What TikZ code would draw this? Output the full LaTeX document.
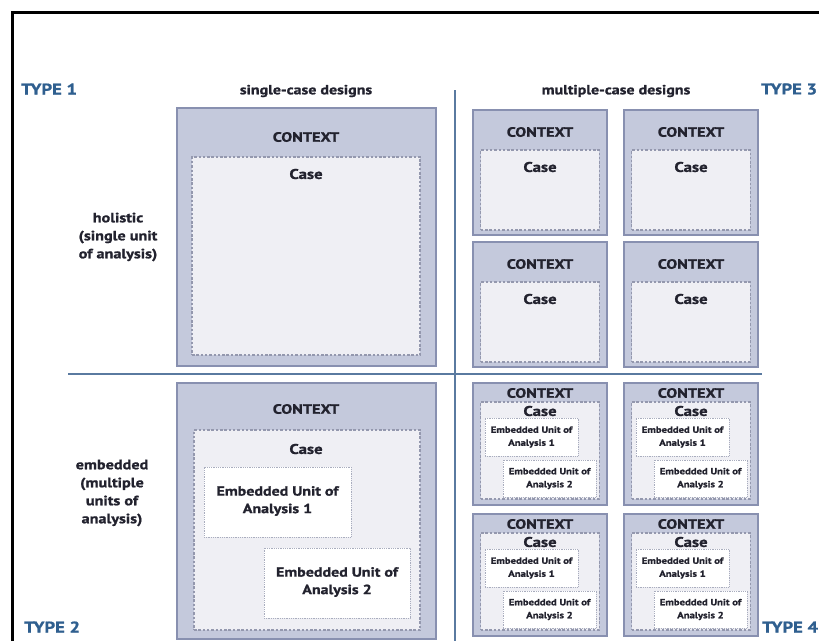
\documentclass[tikz,border=0pt]{standalone}
\usepackage{fontspec}
\setmainfont{PT Sans}[FakeStretch=1.2, BoldFeatures={FakeBold=1.2}]
\usetikzlibrary{positioning}
\definecolor{ctxfill}{HTML}{C4C9DC}
\definecolor{ctxline}{HTML}{8890B0}
\definecolor{casefill}{HTML}{EFEFF4}
\definecolor{caseline}{HTML}{9498AE}
\definecolor{typeblue}{HTML}{2F5F8F}
\definecolor{divline}{HTML}{5A7AA0}
\definecolor{ink}{HTML}{22222E}
\tikzset{
  ctxbox/.style={draw=ctxline, fill=ctxfill, line width=1.3pt, inner sep=0pt},
  casebox/.style={draw=caseline, fill=casefill, line width=1.2pt, dash pattern=on 2.5pt off 1.8pt, inner sep=0pt},
  unitbox/.style={draw=caseline!80, fill=white, line width=0.8pt, densely dotted, inner sep=0pt},
  lbl/.style={font=\bfseries, text=ink, inner sep=0pt, align=center},
  ctxlbl/.style={lbl, font=\bfseries\fontsize{13.5}{15}\selectfont},
  caselbl/.style={lbl, font=\bfseries\fontsize{14}{16}\selectfont},
  headlbl/.style={lbl, font=\bfseries\fontsize{13.3}{15}\selectfont},
  rowlbl/.style={lbl, font=\bfseries\fontsize{13.5}{18}\selectfont},
  bigunit/.style={lbl, font=\bfseries\fontsize{13.3}{17.5}\selectfont},
  smallunit/.style={lbl, font=\bfseries\fontsize{8.9}{13}\selectfont},
  typelbl/.style={font=\bfseries\fontsize{15.5}{17}\selectfont, text=typeblue, inner sep=0pt},
  divider/.style={draw=divline, line width=1.4pt},
}
\begin{document}
\begin{tikzpicture}[x=1pt,y=-1pt]
\useasboundingbox (0,0) rectangle (819,641);
% page frame (top and left edges)
\draw[line width=3pt] (12,641) -- (12,12) -- (819,12);

% quadrant dividers
\coordinate (vtop) at (455,90);
\coordinate (vbot) at (455,641);
\coordinate (hl) at (68,374);
\coordinate (hr) at (762,374);
\draw[divider] (vtop) -- (vbot);
\draw[divider] (hl) -- (hr);

% headings and type labels
\node[headlbl] (hsingle) at (306,91) {single-case designs};
\node[headlbl] (hmulti) at (616,91) {multiple-case designs};
\node[typelbl, anchor=west] (t1) at (21,89) {TYPE 1};
\node[typelbl, anchor=west] (t3) at (761,89) {TYPE 3};
\node[typelbl, anchor=west] (t2) at (24,627) {TYPE 2};
\node[typelbl, anchor=west] (t4) at (762,627) {TYPE 4};
\node[rowlbl] (rhol) at (118,237) {holistic\\(single unit\\of analysis)};
\node[rowlbl] (remb) at (112,493) {embedded\\(multiple\\units of\\analysis)};

% Type 1: single holistic case
\node[ctxbox, minimum width=259, minimum height=258] (c1) at (306.5,237) {};
\node[casebox, minimum width=228, minimum height=198] (k1) at (306,256) {};
\node[ctxlbl] (c1t) at (306,137) {CONTEXT};
\node[caselbl] (k1t) at (306,174) {Case};

% Type 2: single embedded case
\node[ctxbox, minimum width=259, minimum height=256] (c2) at (306.5,511) {};
\node[casebox, minimum width=226, minimum height=200] (k2) at (307,530) {};
\node[ctxlbl] (c2t) at (306,409) {CONTEXT};
\node[caselbl] (k2t) at (306,449) {Case};
\node[unitbox, minimum width=147, minimum height=70] (u21) at (277.5,502) {};
\node[unitbox, minimum width=146, minimum height=70] (u22) at (337,583) {};
\node[bigunit] (u21t) at (277.5,501) {Embedded Unit of\\Analysis 1};
\node[bigunit] (u22t) at (337,582) {Embedded Unit of\\Analysis 2};

% Type 3: multiple holistic cases
\foreach \L/\T [count=\i] in {473/110, 624/110, 473/242, 624/242} {
  \node[ctxbox, minimum width=134, minimum height=125] (c3\i) at (\L+67,\T+62.5) {};
  \node[casebox, minimum width=118.5, minimum height=80] (k3\i) at (\L+67,\T+80) {};
  \node[ctxlbl] (c3t\i) at (\L+67,\T+22) {CONTEXT};
  \node[caselbl] (k3t\i) at (\L+67,\T+57) {Case};
}

% Type 4: multiple embedded cases
\foreach \L/\T [count=\i] in {473/383, 624/383, 473/514, 624/514} {
  \node[ctxbox, minimum width=134, minimum height=122] (c4\i) at (\L+67,\T+61) {};
  \node[casebox, minimum width=118.5, minimum height=97] (k4\i) at (\L+67,\T+67.5) {};
  \node[ctxlbl] (c4t\i) at (\L+67,\T+10) {CONTEXT};
  \node[caselbl] (k4t\i) at (\L+67,\T+28) {Case};
  \node[unitbox, minimum width=93, minimum height=38] (u4a\i) at (\L+58.5,\T+54) {};
  \node[unitbox, minimum width=93, minimum height=37] (u4b\i) at (\L+76.5,\T+95.5) {};
  \node[smallunit] (u4at\i) at (\L+58.5,\T+54) {Embedded Unit of\\Analysis 1};
  \node[smallunit] (u4bt\i) at (\L+76.5,\T+95.5) {Embedded Unit of\\Analysis 2};
}
\end{tikzpicture}
\end{document}
